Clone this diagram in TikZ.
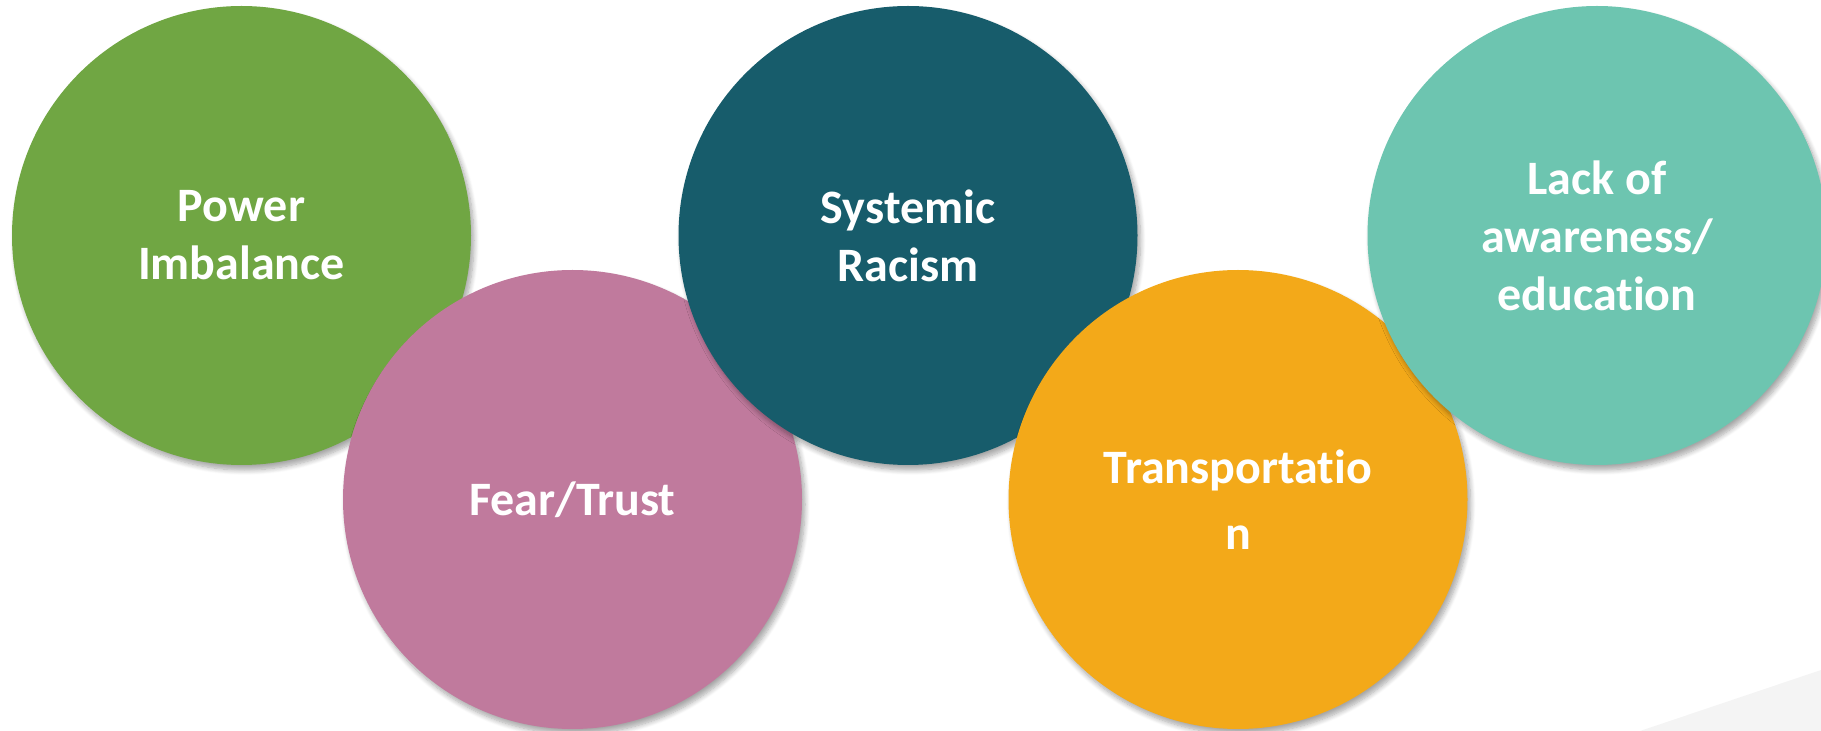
\documentclass[tikz,border=0pt]{standalone}
\usepackage{fontspec}
\setmainfont{Carlito}[RawFeature={-liga}]
\usepackage{tikz}
\usetikzlibrary{shadows.blur}
\definecolor{cgreen}{RGB}{112,166,67}
\definecolor{cpink}{RGB}{192,122,157}
\definecolor{cteal}{RGB}{23,92,107}
\definecolor{corange}{RGB}{243,169,25}
\definecolor{cmint}{RGB}{109,197,176}
\definecolor{cgrey}{RGB}{244,244,244}

\begin{document}
\begin{tikzpicture}[x=0.5pt,y=-0.5pt,
    bubble/.style={circle,minimum size=229.5pt,inner sep=0pt,text=white,
      font=\fontsize{24}{29}\selectfont\bfseries,align=center,
      blur shadow={shadow xshift=1.5pt,shadow yshift=-2.5pt,shadow opacity=35,
        shadow blur steps=8,shadow blur radius=2.5pt}}]
    \useasboundingbox (0,0) rectangle (1821,731);
    \fill[cgrey] (1640,731) -- (1821,670) -- (1821,731) -- cycle;
    \node[bubble,fill=cgreen] (P) at (241.5,235.5) {Power\\Imbalance};
    \node[bubble,fill=cpink] (F) at (572.5,499.5) {Fear/Trust};
    \node[bubble,fill=cteal] (S) at (908,235.5) {Systemic\\Racism};
    \node[bubble,fill=corange,font=\fontsize{24}{33}\selectfont\bfseries] (T) at (1238,499.5) {Transportatio\\n};
    \node[bubble,fill=cmint] (L) at (1597,235.5) {Lack of\\awareness/\\education};
\end{tikzpicture}
\end{document}
